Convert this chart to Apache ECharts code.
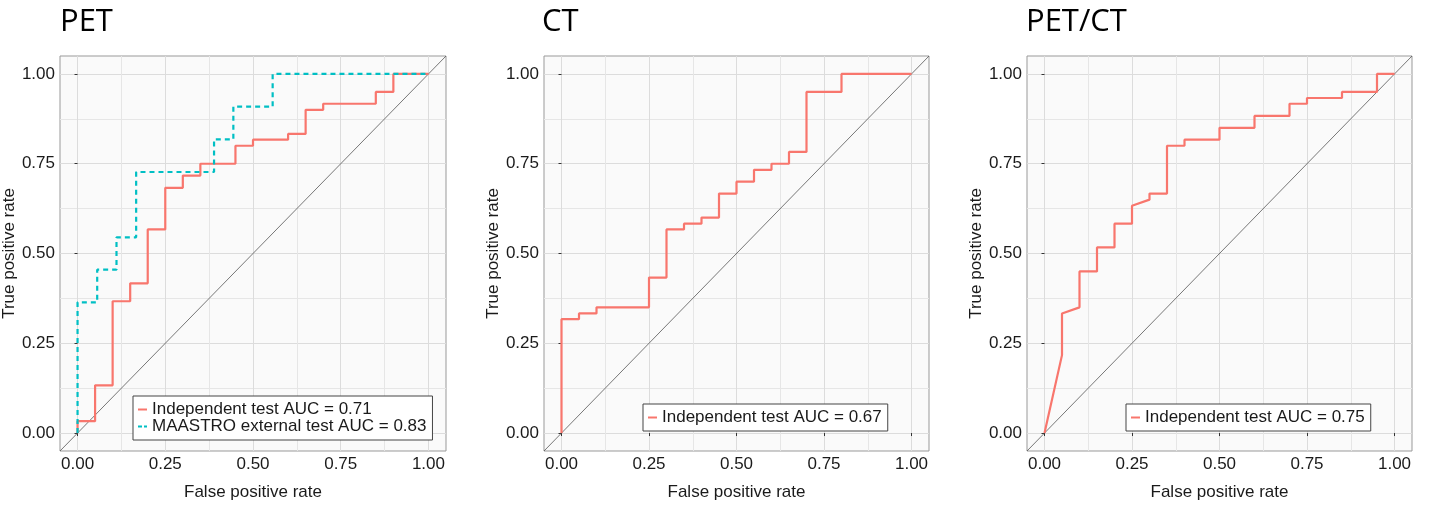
<!DOCTYPE html>
<html>
<head>
<meta charset="utf-8">
<script src="https://cdn.jsdelivr.net/npm/echarts@6/dist/echarts.min.js"></script>
<style>
  html, body { margin: 0; padding: 0; background: #fff; }
  #chart { width: 1429px; height: 506px; }
</style>
</head>
<body>
<div id="chart"></div>
<script>
// ROC 曲线数据（假阳性率 / 真阳性率），按面板分开保存。
const panelTitles = ["PET", "CT", "PET/CT"];
const tickValues = [0, 0.25, 0.5, 0.75, 1];
const minorValues = [0.125, 0.375, 0.625, 0.875];

const petIndepName = "Independent test AUC = 0.71";
const petIndepFpr = [0, 0, 0.05, 0.05, 0.1, 0.1, 0.15, 0.15, 0.2, 0.2, 0.25, 0.25, 0.3, 0.3, 0.35, 0.35, 0.45, 0.45, 0.5, 0.5, 0.6, 0.6, 0.65, 0.65, 0.7, 0.7, 0.85, 0.85, 0.9, 0.9, 1];
const petIndepTpr = [0, 0.033, 0.033, 0.133, 0.133, 0.367, 0.367, 0.417, 0.417, 0.567, 0.567, 0.683, 0.683, 0.717, 0.717, 0.75, 0.75, 0.8, 0.8, 0.817, 0.817, 0.833, 0.833, 0.9, 0.9, 0.917, 0.917, 0.95, 0.95, 1, 1];

const petExtName = "MAASTRO external test AUC = 0.83";
const petExtFpr = [0, 0, 0.056, 0.056, 0.111, 0.111, 0.167, 0.167, 0.389, 0.389, 0.444, 0.444, 0.556, 0.556, 1];
const petExtTpr = [0, 0.364, 0.364, 0.455, 0.455, 0.545, 0.545, 0.727, 0.727, 0.818, 0.818, 0.909, 0.909, 1, 1];

const ctIndepName = "Independent test AUC = 0.67";
const ctIndepFpr = [0, 0, 0.05, 0.05, 0.1, 0.1, 0.25, 0.25, 0.3, 0.3, 0.35, 0.35, 0.4, 0.4, 0.45, 0.45, 0.5, 0.5, 0.55, 0.55, 0.6, 0.6, 0.65, 0.65, 0.7, 0.7, 0.8, 0.8, 1];
const ctIndepTpr = [0, 0.317, 0.317, 0.333, 0.333, 0.35, 0.35, 0.433, 0.433, 0.567, 0.567, 0.583, 0.583, 0.6, 0.6, 0.667, 0.667, 0.7, 0.7, 0.733, 0.733, 0.75, 0.75, 0.783, 0.783, 0.95, 0.95, 1, 1];

const petctIndepName = "Independent test AUC = 0.75";
const petctIndepFpr = [0, 0.05, 0.05, 0.1, 0.1, 0.15, 0.15, 0.2, 0.2, 0.25, 0.25, 0.3, 0.3, 0.35, 0.35, 0.4, 0.4, 0.5, 0.5, 0.6, 0.6, 0.7, 0.7, 0.75, 0.75, 0.85, 0.85, 0.95, 0.95, 1];
const petctIndepTpr = [0, 0.217, 0.333, 0.35, 0.45, 0.45, 0.517, 0.517, 0.583, 0.583, 0.633, 0.65, 0.667, 0.667, 0.8, 0.8, 0.817, 0.817, 0.85, 0.85, 0.883, 0.883, 0.917, 0.917, 0.933, 0.933, 0.95, 0.95, 1, 1];

const diagValues = [-0.05, 1.05];

const RED = "#F8766D";
const CYAN = "#00BFC4";
const FONT = "'Liberation Sans', Arial, sans-serif";
// 图例线段图标：实线与虚线。
const SOLID_ICON = "rect";
const DASH_ICON = "path://M0,0H4V2H0Z M6,0H9V2H6Z";

// 面板布局。
const panels = [
    { left: 60, width: 386, legendLeft: 133, legendTop: 396, titleLeft: 55 },
    { left: 544, width: 385, legendLeft: 643, legendTop: 404, titleLeft: 537 },
    { left: 1027, width: 385, legendLeft: 1126, legendTop: 404, titleLeft: 1021 }
];

const zip = (xs, ys) => xs.map((x, i) => [x, ys[i]]);

const chart = echarts.init(document.getElementById("chart"));
const grids = [], xAxes = [], yAxes = [], titles = [], legends = [], series = [];

panels.forEach((p, i) => {
    grids.push({
        left: p.left, top: 56, width: p.width, height: 401,
        show: true, backgroundColor: "#fafafa", borderColor: "#999", borderWidth: 1
    });
    const baseAxis = {
        type: "value", min: -0.05, max: 1.05, gridIndex: i,
        axisLine: { show: false },
        axisTick: { show: true, length: 3, customValues: tickValues, lineStyle: { color: "#333" } },
        axisLabel: { customValues: tickValues, formatter: v => v.toFixed(2), color: "#1a1a1a", fontSize: 17, fontFamily: FONT, margin: 5 },
        splitLine: { show: true, lineStyle: { color: "#dcdcdc", width: 1 } },
        nameLocation: "middle",
        nameTextStyle: { color: "#1a1a1a", fontSize: 17, fontFamily: FONT }
    };
    const minorAxis = {
        type: "value", min: -0.05, max: 1.05, gridIndex: i,
        axisLine: { show: false },
        axisTick: { show: false, customValues: minorValues },
        axisLabel: { show: false },
        splitLine: { show: true, lineStyle: { color: "#e6e6e6", width: 1 } }
    };
    xAxes.push({ ...baseAxis, position: "bottom", name: "False positive rate", nameGap: 33 });
    xAxes.push({ ...minorAxis, position: "top" });
    yAxes.push({ ...baseAxis, position: "left", name: "True positive rate", nameGap: 39 });
    yAxes.push({ ...minorAxis, position: "right" });

    titles.push({
        text: panelTitles[i], left: p.titleLeft, top: 2,
        textStyle: { fontFamily: "'Open Sans', sans-serif", fontWeight: "normal", fontSize: 31, color: "#000" }
    });

    series.push({
        type: "line", xAxisIndex: 2 * i, yAxisIndex: 2 * i, symbol: "none", silent: true,
        data: zip(diagValues, diagValues), lineStyle: { color: "#555", width: 0.8 }, z: 1
    });
});

const addRoc = (panel, name, fpr, tpr, color, dashed) => {
    series.push({
        name, type: "line", xAxisIndex: 2 * panel, yAxisIndex: 2 * panel, symbol: "none",
        data: zip(fpr, tpr),
        lineStyle: { color, width: 2.2, type: dashed ? [5, 4] : "solid" },
        itemStyle: { color }, z: dashed ? 3 : 2
    });
};
addRoc(0, petIndepName, petIndepFpr, petIndepTpr, RED, false);
addRoc(0, petExtName, petExtFpr, petExtTpr, CYAN, true);
addRoc(1, ctIndepName, ctIndepFpr, ctIndepTpr, RED, false);
addRoc(2, petctIndepName, petctIndepFpr, petctIndepTpr, RED, false);

const legendNames = [[petIndepName, petExtName], [ctIndepName], [petctIndepName]];
panels.forEach((p, i) => {
    legends.push({
        data: legendNames[i].map(name => ({ name, icon: name === petExtName ? DASH_ICON : SOLID_ICON })),
        orient: "vertical", left: p.legendLeft, top: p.legendTop,
        itemWidth: 9, itemHeight: 2, itemGap: 0, padding: [5, 6, 5, 5],
        backgroundColor: "#fff", borderColor: "#444", borderWidth: 1, borderRadius: 0,
        selectedMode: false,
        textStyle: { fontSize: 17, fontFamily: FONT, color: "#1a1a1a", lineHeight: 17 }
    });
});

chart.setOption({
    animation: false,
    title: titles,
    grid: grids,
    xAxis: xAxes,
    yAxis: yAxes,
    legend: legends,
    series
});
</script>
</body>
</html>
